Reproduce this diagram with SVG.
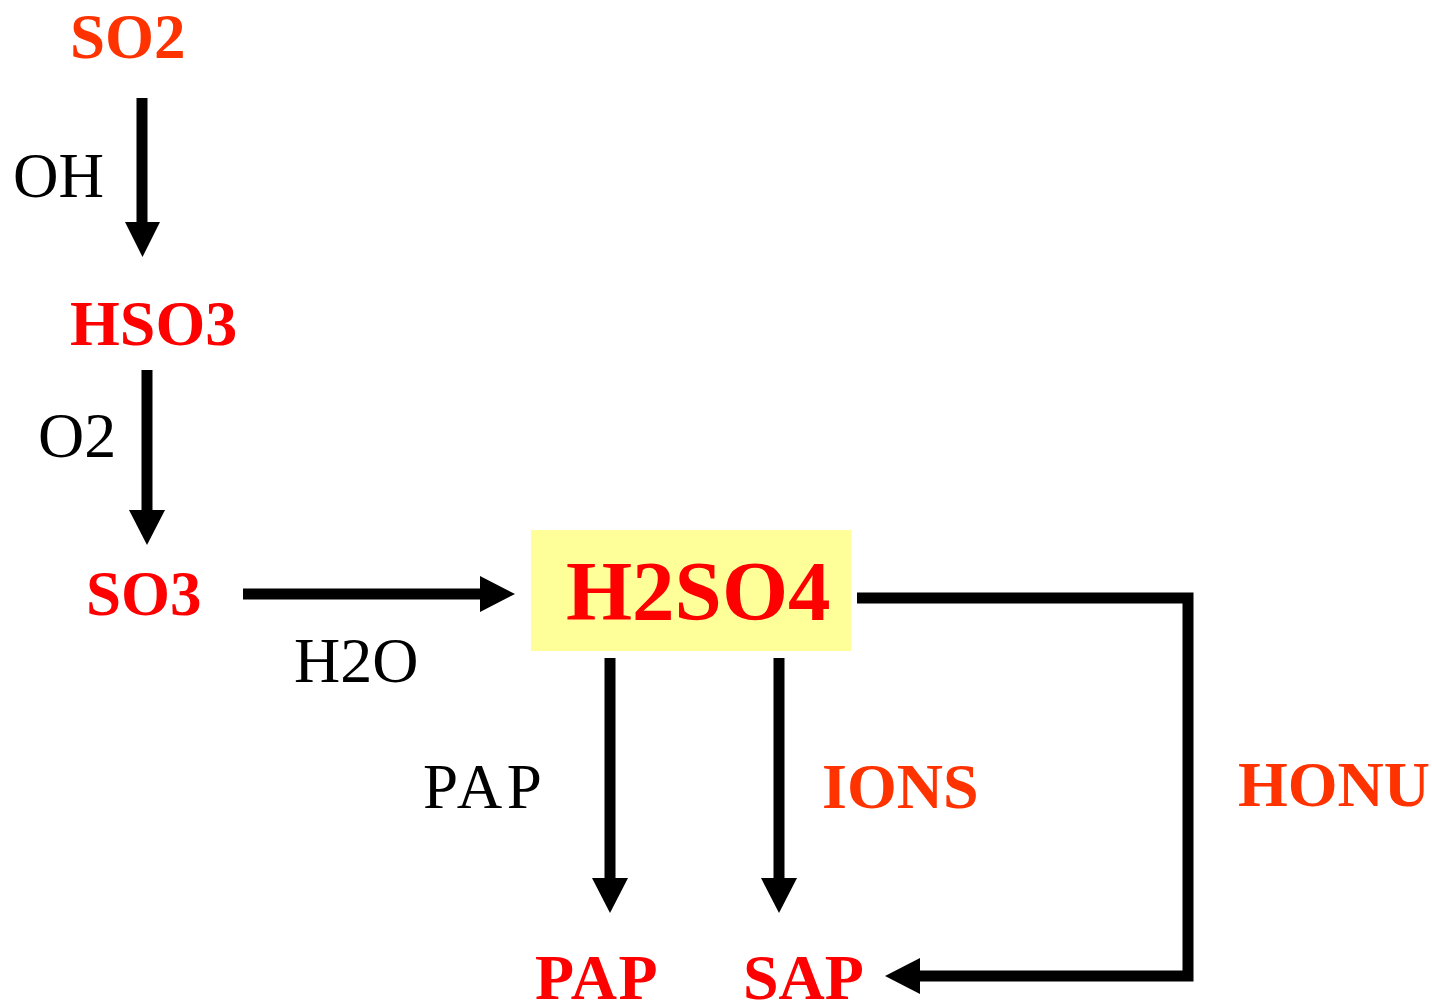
<svg xmlns="http://www.w3.org/2000/svg" width="1432" height="1005" viewBox="0 0 1432 1005">
<style>
.b{font-family:"Liberation Serif","Times New Roman",serif;font-weight:bold;font-size:63px}
.r{font-family:"Liberation Serif","Times New Roman",serif;font-size:63px;fill:#000}
.o{fill:#FF3300}
.red{fill:#FF0000}
.ln{stroke:#000;stroke-width:11;fill:none}
.hd{fill:#000}
</style>
<rect width="1432" height="1005" fill="#fff"/>
<g id="so2"><text class="b o" x="70" y="58">SO2</text></g>
<g id="hso3"><text class="b red" x="70" y="345" style="font-size:64px">HSO3</text></g>
<g id="so3"><text class="b red" x="86" y="615">SO3</text></g>
<g id="h2so4">
<rect x="531" y="530" width="320" height="121" fill="#FFFF99"/>
<text class="b red" x="566" y="620" style="font-size:85px">H2SO4</text>
</g>
<g id="pap"><text class="b red" x="535" y="999" style="font-size:64px;letter-spacing:1.5px">PAP</text></g>
<g id="sap"><text class="b red" x="743" y="999" style="font-size:64px">SAP</text></g>
<g id="connectors">
<line class="ln" x1="142" y1="98" x2="142" y2="224"/>
<polygon class="hd" points="125,222 160,222 142.5,257"/>
<text class="r" x="13" y="197">OH</text>
<line class="ln" x1="147" y1="370" x2="147" y2="512"/>
<polygon class="hd" points="129,510 165,510 147,545"/>
<text class="r" x="38" y="457" style="font-size:64px">O2</text>
<line class="ln" x1="243" y1="594" x2="482" y2="594"/>
<polygon class="hd" points="480,576 480,612 515,594"/>
<text class="r" x="294" y="682" style="font-size:64px">H2O</text>
<line class="ln" x1="610" y1="658" x2="610" y2="880"/>
<polygon class="hd" points="592,878 628,878 610,913"/>
<text class="r" x="423" y="808" style="letter-spacing:4.5px">PAP</text>
<line class="ln" x1="779" y1="658" x2="779" y2="880"/>
<polygon class="hd" points="761,878 797,878 779,913"/>
<text class="b o" x="822" y="808" style="font-size:64px">IONS</text>
<polyline class="ln" points="857,598 1188,598 1188,976 918,976"/>
<polygon class="hd" points="920,958 920,994 885,976"/>
<text class="b o" x="1238" y="806" style="font-size:64px">HONU</text>
</g>
</svg>
